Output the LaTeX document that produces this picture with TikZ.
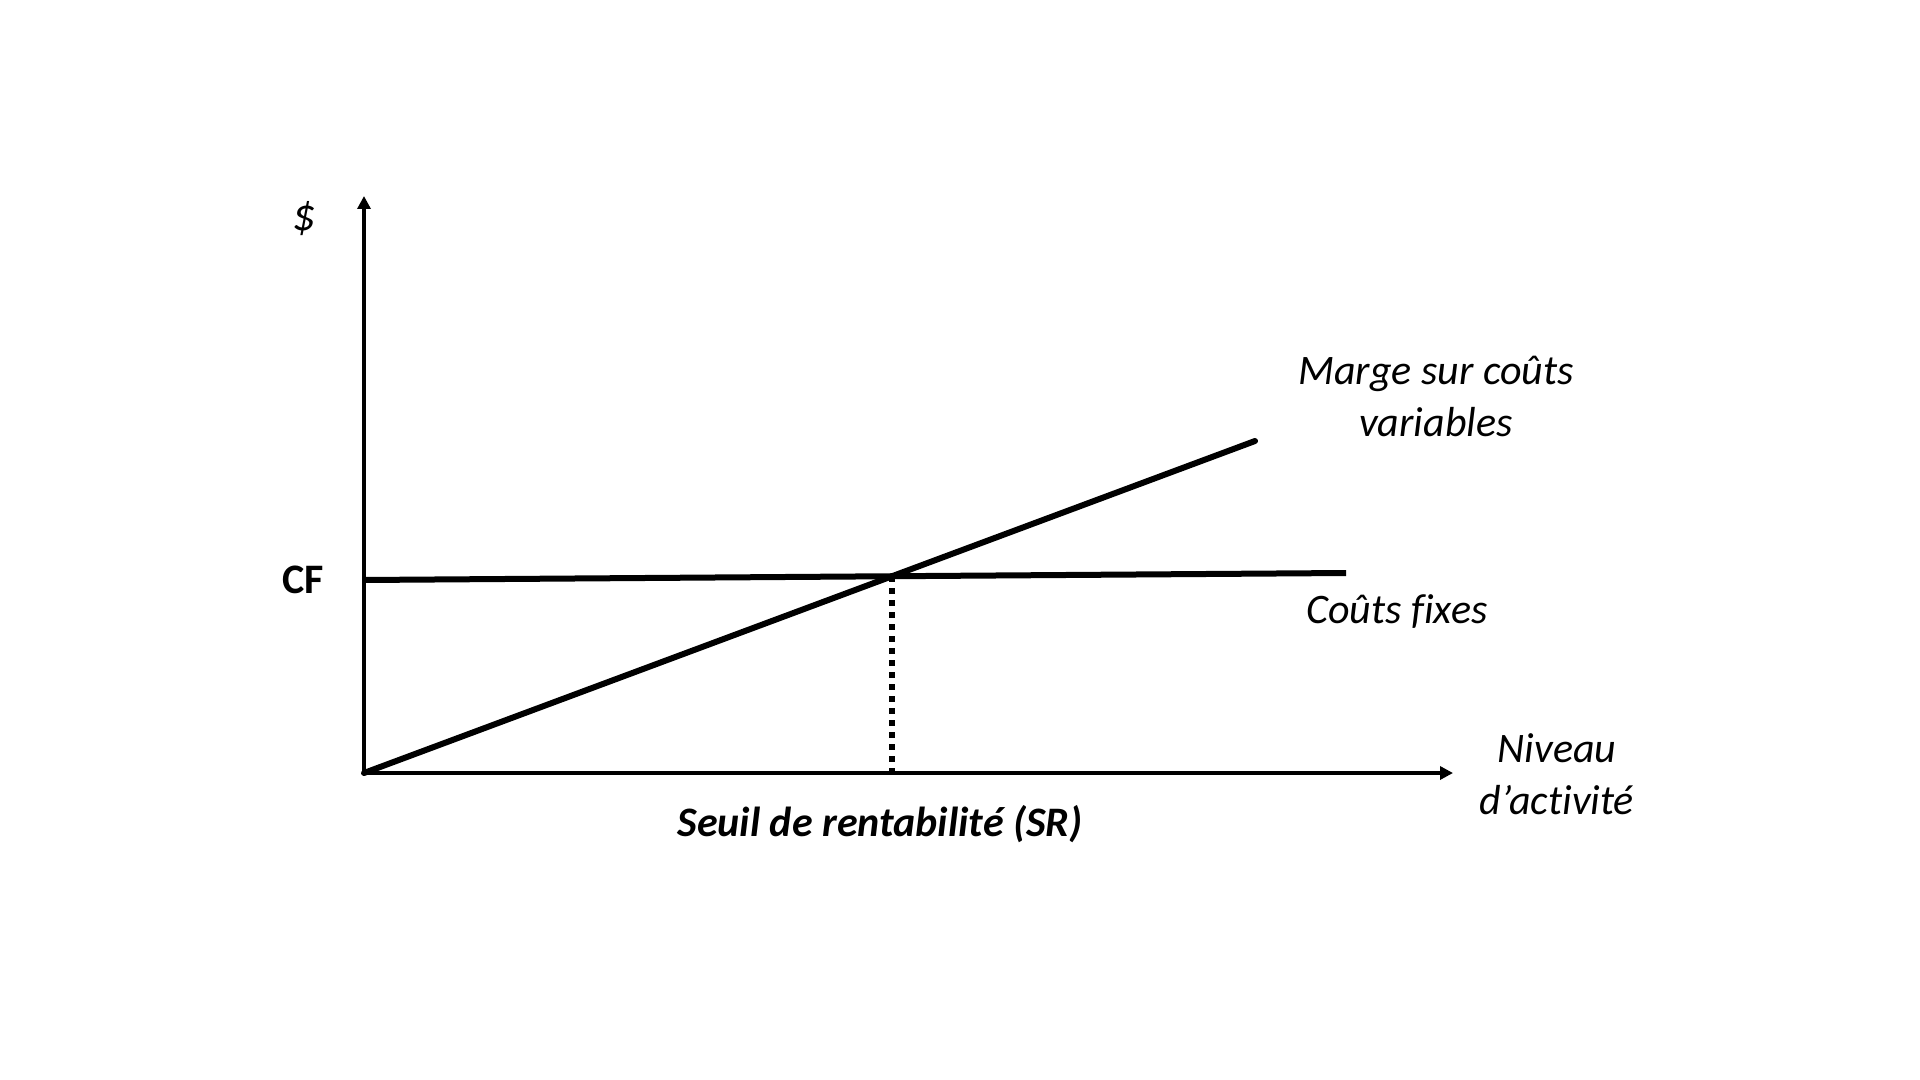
\documentclass[tikz,border=0pt]{standalone}
\usepackage{fontspec}
\setmainfont{Carlito}[Ligatures=NoCommon]
\usetikzlibrary{arrows.meta}
\begin{document}
\begin{tikzpicture}[x=0.5pt,y=-0.5pt,
  axis/.style={line width=2.2pt,-{Triangle[length=6.5pt,width=6.5pt]}},
  curve/.style={line width=3pt},
  guide/.style={line width=3pt,dash pattern=on 3pt off 3pt},
  lbl/.style={font=\fontsize{21}{26}\selectfont\itshape,align=center,inner sep=0pt},
  blbl/.style={font=\fontsize{21}{26}\selectfont\bfseries,inner sep=0pt},
  bilbl/.style={font=\fontsize{21}{26}\selectfont\bfseries\itshape,inner sep=0pt}]
\useasboundingbox (0,0) rectangle (1920,1080);
\fill[white] (0,0) rectangle (1920,1080);
\coordinate (O) at (364,773);
\coordinate (Ytip) at (364,196);
\coordinate (Xtip) at (1453,773);
\coordinate (CFl) at (364,580);
\coordinate (CFr) at (1346,573);
\coordinate (Mend) at (1255,441);
\coordinate (S) at (892,576);
\coordinate (Sb) at (892,773);
\draw[guide] (S) -- (Sb);
\draw[axis] (O) -- (Ytip);
\draw[axis] (O) -- (Xtip);
\draw[curve] (CFl) -- (CFr);
\draw[curve,line cap=round] (O) -- (Mend);
\node[lbl,font=\fontsize{23}{26}\selectfont\itshape] (dollar) at (304,219) {\$};
\node[blbl] (cf) at (303,580) {CF};
\node[lbl] (marge) at (1436,396) {Marge sur coûts\\variables};
\node[lbl] (fixes) at (1397,612) {Coûts fixes};
\node[lbl] (niveau) at (1557,774) {Niveau\\d’activité};
\node[bilbl] (sr) at (880,824) {Seuil de rentabilité (SR)};
\end{tikzpicture}
\end{document}
